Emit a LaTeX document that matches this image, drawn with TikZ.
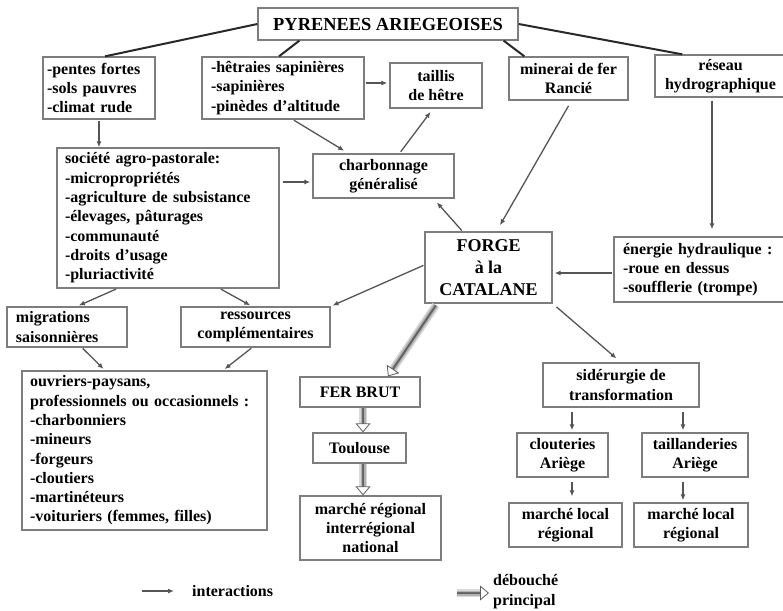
\documentclass[tikz,border=0pt]{standalone}
\usepackage{fontspec}
\setmainfont{Liberation Serif}
\usetikzlibrary{arrows.meta,calc}
\definecolor{boxc}{RGB}{125,125,125}
\definecolor{arrc}{RGB}{85,85,85}
\definecolor{topc}{RGB}{40,40,40}
\begin{document}
\begin{tikzpicture}[x=1pt,y=-1pt,
  every node/.style={font=\fontsize{16}{19.3}\selectfont\bfseries, text=black},
  box/.style={draw=boxc, line width=1.3pt, fill=white, inner xsep=0pt, inner ysep=1pt, align=center},
  lbox/.style={draw=boxc, line width=1.3pt, fill=white, inner ysep=1pt, align=left},
  big/.style={font=\fontsize{18.4}{22}\selectfont\bfseries},
  arr/.style={draw=arrc, line width=1.3pt, -{Latex[length=6pt,width=5pt]}, shorten >=2pt, shorten <=1pt},
  topl/.style={draw=topc, line width=2pt},
  hollow/.style={draw=gray!75!black, line width=0.8pt, -{Triangle[open, fill=white, length=9pt, width=15pt]},
    preaction={draw=gray!30, line width=8pt, shorten >=8.6pt, -},
    preaction={draw=gray!60, line width=5pt, shorten >=8.6pt, -},
    preaction={draw=gray!85!black, line width=2pt, shorten >=8.6pt, -}}
]
\useasboundingbox (0,0) rectangle (783,610);
\fill[white] (0,0) rectangle (783,610);

% nodes
\node[box, big, minimum width=260pt, minimum height=32pt] (pyr) at (388,24) {PYRENEES ARIEGEOISES};
\node[lbox, inner xsep=4pt, text width=104pt, minimum height=62pt] (A) at (99,88) {-pentes fortes\\-sols pauvres\\-climat rude};
\node[lbox, inner xsep=9pt, text width=144pt, minimum height=62pt] (B) at (283,88) {-hêtraies sapinières\\-sapinières\\-pinèdes d'altitude};
\node[box, minimum width=92pt, minimum height=45pt] (taillis) at (436,85.5) {taillis\\de hêtre};
\node[box, minimum width=119pt, minimum height=43pt] (minerai) at (568.5,78.5) {minerai de fer\\Rancié};
\node[box, minimum width=131pt, minimum height=42pt] (reseau) at (720.5,76) {réseau\\hydrographique};
\node[lbox, inner xsep=8pt, text width=206pt, minimum height=140pt] (soc) at (168,218) {société agro-pastorale:\\-micropropriétés\\-agriculture de subsistance\\-élevages, pâturages\\-communauté\\-droits d'usage\\-pluriactivité};
\node[box, minimum width=141pt, minimum height=44pt] (charb) at (383.5,176) {charbonnage\\généralisé};
\node[lbox, inner xsep=9pt, text width=102pt, minimum height=40pt] (migr) at (67,327) {migrations\\saisonnières};
\node[box, minimum width=149pt, minimum height=40pt] (ress) at (255.5,327) {ressources\\complémentaires};
\node[box, font=\fontsize{18}{22}\selectfont\bfseries, minimum width=127pt, minimum height=71pt] (forge) at (488.5,267.5) {FORGE\\à la\\CATALANE};
\node[lbox, inner xsep=9pt, text width=154pt, minimum height=65pt] (energie) at (700,269.5) {énergie hydraulique :\\-roue en dessus\\-soufflerie (trompe)};
\node[lbox, inner xsep=8pt, text width=229pt, minimum height=159pt] (ouv) at (144.5,450.5) {ouvriers-paysans,\\professionnels ou occasionnels :\\-charbonniers\\-mineurs\\-forgeurs\\-cloutiers\\-martinéteurs\\-voituriers (femmes, filles)};
\node[box, minimum width=120pt, minimum height=30pt] (ferbrut) at (360,392) {FER BRUT};
\node[box, minimum width=93pt, minimum height=30pt] (toulouse) at (359.5,448) {Toulouse};
\node[box, minimum width=141pt, minimum height=64pt] (mreg) at (370.5,528) {marché régional\\interrégional\\national};
\node[box, minimum width=156pt, minimum height=44pt] (sid) at (621,385) {sidérurgie de\\transformation};
\node[box, minimum width=91pt, minimum height=44pt] (clout) at (562.5,455) {clouteries\\Ariège};
\node[box, minimum width=106pt, minimum height=44pt] (taill) at (695,455) {taillanderies\\Ariège};
\node[box, minimum width=113pt, minimum height=44pt] (mlA) at (565.5,525) {marché local\\régional};
\node[box, minimum width=114pt, minimum height=44pt] (mlB) at (691,525) {marché local\\régional};

% lines from the top box
\draw[topl] (pyr.west) -- ([xshift=6pt]A.north);
\draw[topl] ([xshift=42pt]pyr.south west) -- ([xshift=-4pt]B.north);
\draw[topl] ([xshift=-15pt]pyr.south east) -- ([xshift=16pt]minerai.north west);
\draw[topl] (pyr.east) -- ([xshift=28pt]reseau.north west);

% interactions
\draw[arr, shorten >=0pt] (A.south) -- (A.south |- soc.north);
\draw[arr] ([yshift=5pt]B.east) -- ([yshift=5pt]B.east -| taillis.west);
\draw[arr, shorten >=5pt] ([xshift=10pt]B.south) -- ([xshift=-35pt]charb.north);
\draw[arr, shorten >=4pt, shorten <=2pt] ([xshift=16pt]charb.north) -- ([xshift=-3pt]taillis.south);
\draw[arr, shorten >=7pt, shorten <=6pt] ([xshift=3pt]minerai.south) -- ([xshift=8pt]forge.north);
\draw[arr, shorten >=7pt, shorten <=3pt] ([xshift=-8.5pt]reseau.south) -- ([xshift=-8.5pt]reseau.south |- energie.north);
\draw[arr] ([yshift=-3.5pt]energie.west) -- ([yshift=-3.5pt]energie.west -| forge.east);
\draw[arr, shorten >=5pt] ([xshift=-26pt]forge.north) -- ([xshift=50pt]charb.south);
\draw[arr, shorten <=3pt] ([yshift=36pt]soc.east) -- ([yshift=36pt]soc.east -| charb.west);
\draw[arr] ([xshift=-51pt]soc.south) -- ([xshift=10pt]migr.north);
\draw[arr] ([xshift=52pt]soc.south) -- ([xshift=-3.5pt]ress.north);
\draw[arr] ([yshift=2.5pt]forge.west) -- (ress.north east);
\draw[arr] ([xshift=15pt]migr.south) -- ([xshift=-39.5pt]ouv.north);
\draw[arr] ([xshift=-3.5pt]ress.south) -- ([xshift=78.5pt]ouv.north);
\draw[arr, shorten >=6pt, shorten <=5pt] (forge.south east) -- (sid.north);
\draw[arr, shorten <=4pt] ([xshift=-49pt]sid.south) -- ([xshift=-49pt]sid.south |- clout.north);
\draw[arr, shorten <=4pt] ([xshift=62pt]sid.south) -- ([xshift=62pt]sid.south |- taill.north);
\draw[arr, shorten <=4pt, shorten >=6pt] ([xshift=9.5pt]clout.south) -- ([xshift=9.5pt]clout.south |- mlA.north);
\draw[arr, shorten <=4pt] ([xshift=-12pt]taill.south) -- ([xshift=-12pt]taill.south |- mlB.north);

% main outlet
\draw[hollow, shorten <=2pt] ([xshift=-51.5pt]forge.south) -- ([xshift=28pt]ferbrut.north);
\draw[hollow] ([xshift=3pt]ferbrut.south) -- ([xshift=3pt]ferbrut.south |- toulouse.north);
\draw[hollow] ([xshift=3.5pt]toulouse.south) -- ([xshift=3.5pt]toulouse.south |- mreg.north);

% legend
\coordinate (la) at (142,591);
\coordinate (lb) at (174,591);
\draw[arr, shorten >=0pt, shorten <=0pt] (la) -- (lb);
\node[anchor=west, inner sep=0pt] (lt) at (192,591) {interactions};
\coordinate (ha) at (457,593);
\coordinate (hb) at (489,593);
\draw[hollow] (ha) -- (hb);
\node[anchor=west, inner sep=0pt, align=left, font=\fontsize{16}{20}\selectfont\bfseries] (ht) at (493,592) {débouché\\principal};
\end{tikzpicture}
\end{document}
